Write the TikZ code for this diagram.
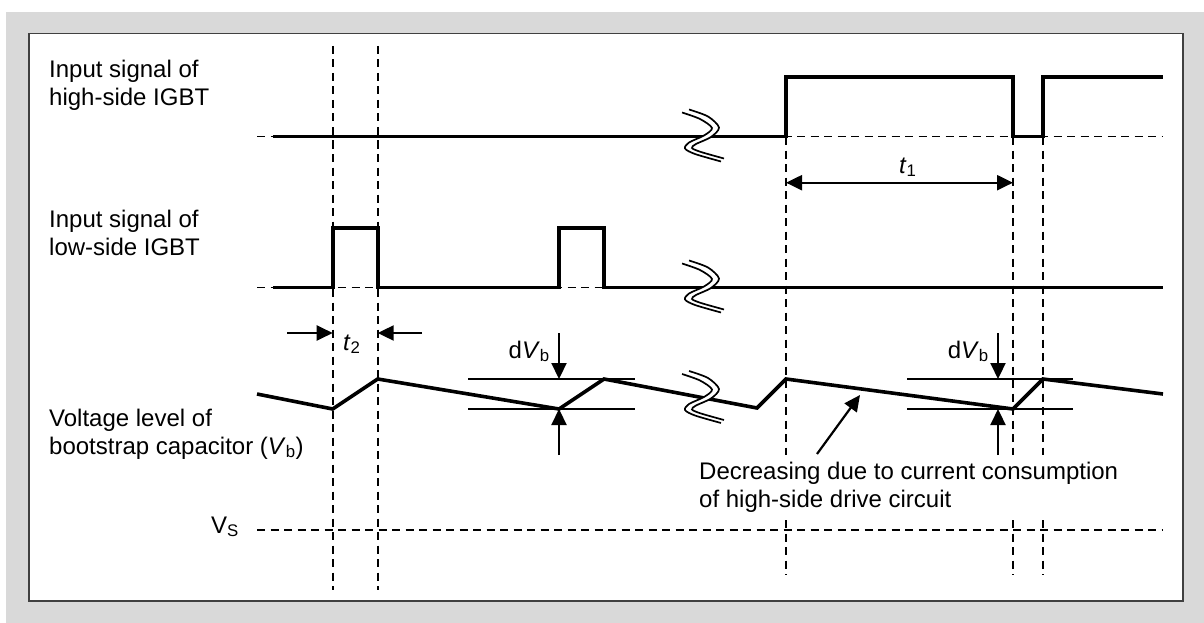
\documentclass[tikz,border=0pt]{standalone}
\usepackage{fontspec}
\setmainfont{Liberation Sans}
\usetikzlibrary{arrows.meta}
\definecolor{bggray}{HTML}{D9D9D9}
\definecolor{bordergray}{HTML}{404040}
\newcommand{\breaksym}[2]{%
  \begin{scope}[shift={(#1,#2)}]
    \fill[white] plot[smooth] coordinates {(-21,-24) (-3,-17.5) (9,-8.5) (1,-1) (-14,6) (-18,12) (-8,17.5) (18,25)}
      -- plot[smooth] coordinates {(21,22) (-2,15.5) (-11,11.5) (-7,7.5) (8,0.5) (16,-9) (5,-20) (-14,-27)} -- cycle;
    \draw[brk] plot[smooth] coordinates {(-21,-24) (-3,-17.5) (9,-8.5) (1,-1) (-14,6) (-18,12) (-8,17.5) (18,25)};
    \draw[brk] plot[smooth] coordinates {(-14,-27) (5,-20) (16,-9) (8,0.5) (-7,7.5) (-11,11.5) (-2,15.5) (21,22)};
  \end{scope}}
\begin{document}
\begin{tikzpicture}[x=1pt,y=-1pt,
  sig/.style={line width=3.6pt, line join=miter, line cap=butt},
  vbline/.style={line width=3.6pt, line join=miter},
  dsh/.style={line width=1.6pt, dash pattern=on 8pt off 5.5pt},
  refl/.style={line width=1.7pt},
  brk/.style={line width=1.7pt},
  arr/.style={line width=2.2pt, -{Triangle[length=16pt,width=15pt]}},
  darr/.style={line width=2.2pt, {Triangle[length=16pt,width=15pt]}-{Triangle[length=16pt,width=15pt]}},
  lbl/.style={inner sep=0pt, anchor=base west, font=\fontsize{24}{28}\selectfont},
  lble/.style={inner sep=0pt, anchor=base east, font=\fontsize{24}{28}\selectfont},
]
\useasboundingbox (0,0) rectangle (1204,623);
\fill[bggray] (6,12) rectangle (1204,623);
\draw[fill=white, draw=bordergray, line width=1.6pt] (28.7,33.5) rectangle (1182.7,601);

% dashed guide lines
\draw[dsh] (257,136.5) -- (1163,136.5);
\draw[dsh] (257,287.5) -- (1163,287.5);
\draw[dsh] (257,530) -- (1163,530);
\draw[dsh] (332.7,46) -- (332.7,590);
\draw[dsh] (377.7,46) -- (377.7,590);
\foreach \x in {786,1013,1043} {
  \draw[dsh] (\x,137) -- (\x,455);
  \draw[dsh] (\x,520) -- (\x,575);
}

% signals
\draw[sig] (273,136.5) -- (786,136.5) -- (786,77) -- (1013,77) -- (1013,136.5) -- (1043,136.5) -- (1043,77) -- (1163,77);
\draw[sig] (273,287.5) -- (332.7,287.5) -- (332.7,228) -- (377.7,228) -- (377.7,287.5) -- (559,287.5) -- (559,228) -- (604,228) -- (604,287.5) -- (1163,287.5);

% reference lines
\draw[refl] (468,379) -- (635,379);
\draw[refl] (468,409) -- (635,409);
\draw[refl] (907,379) -- (1073,379);
\draw[refl] (907,409) -- (1073,409);

% Vb waveform
\draw[vbline] (257,394) -- (332.7,409) -- (377.7,379) -- (559,409) -- (604,379) -- (757,408) -- (786,379) -- (1013,409) -- (1043,379) -- (1163,394);

% breaks
\breaksym{703}{136.5}
\breaksym{703}{287.5}
\breaksym{703}{398}

% arrows
\coordinate (t2a) at (287,333);
\coordinate (t2b) at (332.7,333);
\coordinate (t2c) at (422,333);
\coordinate (t2d) at (377.7,333);
\draw[arr] (t2a) -- (t2b);
\draw[arr] (t2c) -- (t2d);
\coordinate (t1a) at (786,182.7);
\coordinate (t1b) at (1013,182.7);
\draw[darr] (t1a) -- (t1b);
\foreach \x/\n in {559/a,998/b} {
  \coordinate (dtop\n) at (\x,333);
  \coordinate (dhi\n) at (\x,379);
  \coordinate (dlo\n) at (\x,409);
  \coordinate (dbot\n) at (\x,455);
  \draw[arr] (dtop\n) -- (dhi\n);
  \draw[arr] (dbot\n) -- (dlo\n);
}
\coordinate (da) at (817,454);
\coordinate (db) at (860,395);
\draw[arr] (da) -- (db);

% labels
\node[lbl] (h1) at (49,77.7) {Input signal of};
\node[lbl] (h2) at (49,105.7) {high-side IGBT};
\node[lbl] (l1) at (49,227.7) {Input signal of};
\node[lbl] (l2) at (49,255.7) {low-side IGBT};
\node[lbl] (v1) at (49,426) {Voltage level of};
\node[lbl] (v2) at (49,454) {bootstrap capacitor (\textit{V}\textsubscript{b})};
\node[lbl] (vs) at (211,533) {V\textsubscript{S}};
\node[lbl] (t2) at (343,350) {\textit{t}\textsubscript{2}};
\node[lbl] (t1) at (899,173) {\textit{t}\textsubscript{1}};
\node[lble] (dv1) at (550,358) {d\textit{V}\textsubscript{b}};
\node[lble] (dv2) at (989,358) {d\textit{V}\textsubscript{b}};
\node[lbl] (dc1) at (699,479) {Decreasing due to current consumption};
\node[lbl] (dc2) at (699,507) {of high-side drive circuit};
\end{tikzpicture}
\end{document}
